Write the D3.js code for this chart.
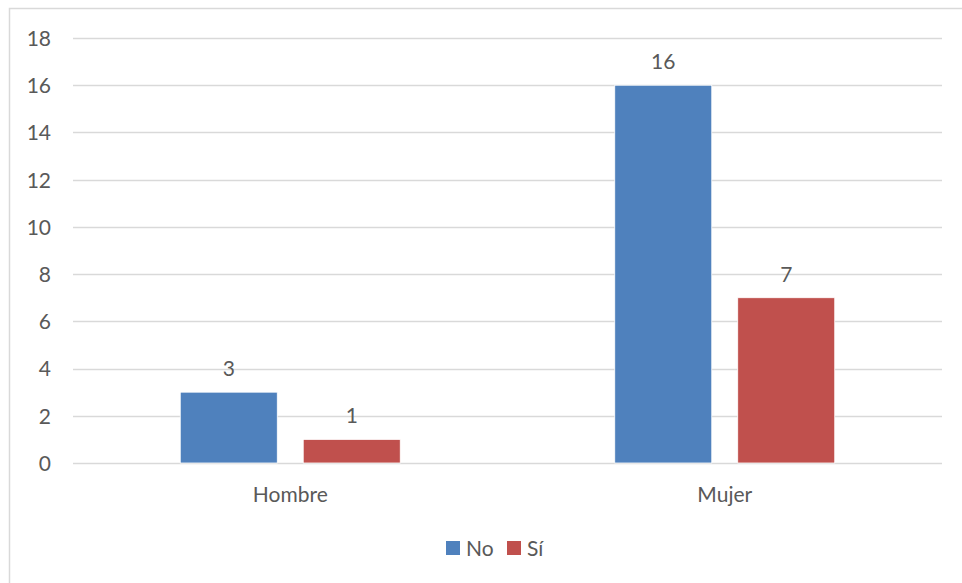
<!DOCTYPE html>
<html lang="es">
<head>
<meta charset="utf-8">
<title>No / Sí por sexo</title>
<script src="https://cdnjs.cloudflare.com/ajax/libs/d3/7.8.5/d3.min.js"></script>
<style>
  body { margin: 0; background: #fff; }
  text { font-family: Lato, "Open Sans", sans-serif; fill: #595959; }
</style>
</head>
<body>
<script>
var categories = ["Hombre", "Mujer"];
var seriesNames = ["No", "Sí"];
var seriesColors = ["#4F81BD", "#C0504D"];
var noValues = [3, 16];
var siValues = [1, 7];
var yTicks = [0, 2, 4, 6, 8, 10, 12, 14, 16, 18];

var width = 962, height = 583;
var fontSize = "21px";

var svg = d3.select("body").append("svg")
    .attr("width", width)
    .attr("height", height);

// chart frame
svg.append("rect")
    .attr("x", 9.5).attr("y", 8.5)
    .attr("width", 970).attr("height", 600)
    .attr("fill", "none")
    .attr("stroke", "#d9d9d9")
    .attr("stroke-width", 1.5);

var x = d3.scaleBand()
    .domain(categories)
    .range([73, 942]);

var x1 = d3.scaleBand()
    .domain(seriesNames)
    .range([x.bandwidth() / 2 - 110, x.bandwidth() / 2 + 110])
    .paddingInner(0.211);

var y = d3.scaleLinear()
    .domain([0, 18])
    .range([463, 38]);

// gridlines
svg.append("g").selectAll("line")
    .data(yTicks)
    .enter()
    .append("line")
    .attr("x1", 73).attr("x2", 942)
    .attr("y1", function(d) { return Math.round(y(d)) + 0.5; })
    .attr("y2", function(d) { return Math.round(y(d)) + 0.5; })
    .attr("stroke", "#d9d9d9")
    .attr("stroke-width", 1.5);

// y tick labels
var yAxis = d3.axisLeft(y).tickValues(yTicks).tickSize(0).tickPadding(0);
var yg = svg.append("g").attr("transform", "translate(51,0)").call(yAxis);
yg.select(".domain").remove();
yg.selectAll("text")
    .style("font-size", fontSize)
    .attr("fill", "#595959")
    .attr("dy", "0.35em");

// bars
var rows = categories.map(function(c, i) {
    return [
        { cat: c, series: "No", value: noValues[i], color: seriesColors[0] },
        { cat: c, series: "Sí", value: siValues[i], color: seriesColors[1] }
    ];
});

var groups = svg.append("g").selectAll("g")
    .data(rows)
    .enter()
    .append("g")
    .attr("transform", function(d) { return "translate(" + x(d[0].cat) + ",0)"; });

groups.selectAll("rect")
    .data(function(d) { return d; })
    .enter()
    .append("rect")
    .attr("x", function(d) { return x1(d.series); })
    .attr("y", function(d) { return y(d.value); })
    .attr("width", x1.bandwidth())
    .attr("height", function(d) { return y(0) - y(d.value); })
    .attr("fill", function(d) { return d.color; })
    .attr("stroke", "#fff")
    .attr("stroke-width", 0.8);

groups.selectAll("text")
    .data(function(d) { return d; })
    .enter()
    .append("text")
    .attr("x", function(d) { return x1(d.series) + x1.bandwidth() / 2; })
    .attr("y", function(d) { return y(d.value) - 16; })
    .attr("text-anchor", "middle")
    .style("font-size", fontSize)
    .attr("fill", "#404040")
    .text(function(d) { return d.value; });

// category labels
var xAxis = d3.axisBottom(x).tickSize(0).tickPadding(0);
var xg = svg.append("g").attr("transform", "translate(0,487)").call(xAxis);
xg.select(".domain").remove();
xg.selectAll("text")
    .style("font-size", fontSize)
    .attr("fill", "#595959")
    .attr("dy", "0.71em");

// legend
var legendX = [446, 507];
var legend = svg.append("g").selectAll("g")
    .data(seriesNames)
    .enter()
    .append("g")
    .attr("transform", function(d, i) { return "translate(" + legendX[i] + ",541)"; });

legend.append("rect")
    .attr("width", 14).attr("height", 14)
    .attr("fill", function(d, i) { return seriesColors[i]; });

legend.append("text")
    .attr("x", 20).attr("y", 14.5)
    .style("font-size", fontSize)
    .attr("fill", "#595959")
    .text(function(d) { return d; });
</script>
</body>
</html>
